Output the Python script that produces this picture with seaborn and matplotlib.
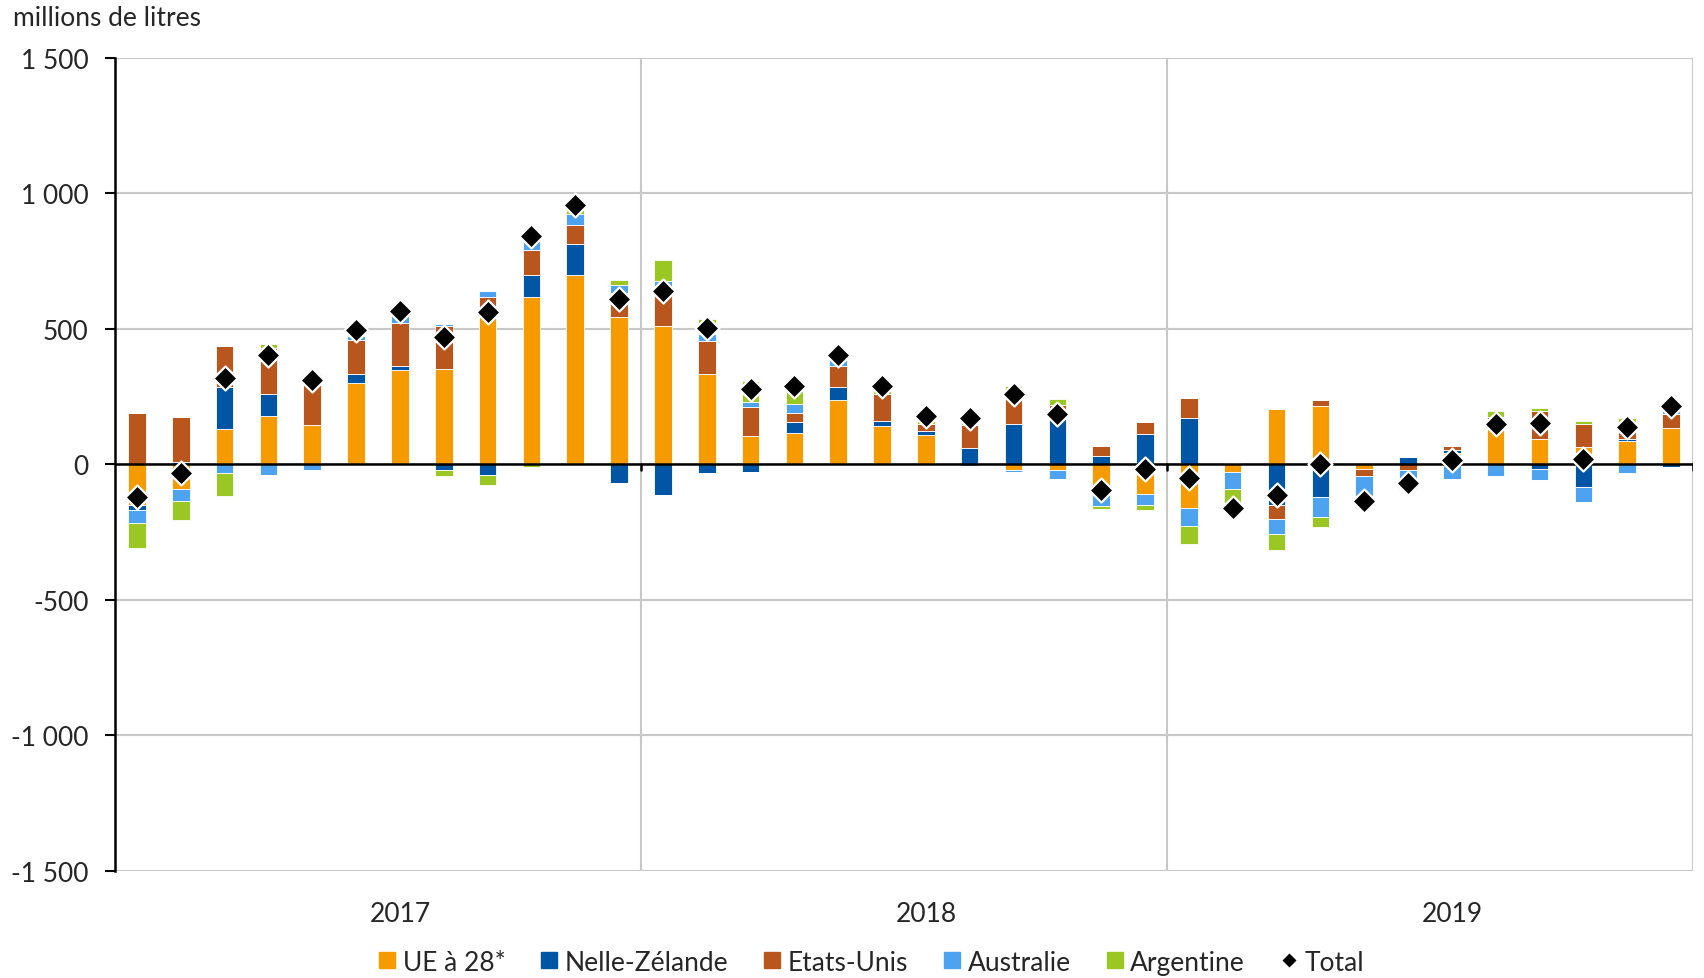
import numpy as np
import pandas as pd
import matplotlib
matplotlib.use("Agg")
import matplotlib.pyplot as plt
from matplotlib.lines import Line2D
import seaborn as sns

# -----------------------------------
# Data (millions de litres), monthly 2017-2019
months = [f"{y}-{m:02d}" for y in (2017, 2018, 2019) for m in range(1, 13)]
years = ["2017", "2018", "2019"]

ue = [-151, -90, 131, 177, 144, 301, 348, 353, 549, 619, 699, 542,
      511, 334, 104, 117, 236, 140, 109, 0, -20, -22, -106, -108,
      -160, -28, 205, 216, -16, 0, 43, 160, 92, 63, 85, 135]
nz = [-16, 10, 155, 82, 0, 31, 15, -20, -38, 80, 115, -68,
      -114, -33, -28, 39, 48, 18, 12, 60, 147, 174, 31, 111,
      171, 0, -149, -120, 0, 27, 11, 0, -16, -84, 8, -11]
us = [190, 165, 150, 171, 147, 125, 158, 156, 70, 90, 70, 91,
      130, 122, 108, 34, 80, 101, 26, 84, 119, 45, 38, 44,
      72, 5, -53, 20, -29, -20, 14, 14, 103, 85, 50, 52]
au = [-48, -47, -34, -38, -22, 16, 27, 7, 20, 68, 41, 27,
      35, 23, 16, 32, 26, 0, 0, -6, -9, -34, -49, -41,
      -68, -64, -54, -74, -87, -45, -53, -44, -41, -55, -31, 8]
ar = [-93, -70, -82, 15, 42, 15, 12, -25, -38, -11, 30, 21,
      76, 58, 79, 63, 10, 32, 28, 30, 22, 22, -9, -21,
      -65, -72, -61, -39, 0, -27, 0, 21, 12, 10, 26, 30]
total = [-120, -31, 319, 404, 311, 494, 564, 469, 561, 844, 957, 611,
         638, 504, 278, 287, 402, 290, 178, 172, 259, 187, -96, -16,
         -49, -160, -114, 2, -135, -68, 15, 150, 152, 18, 138, 214]

series = ["UE à 28*", "Nelle-Zélande", "Etats-Unis", "Australie", "Argentine"]
colors = ["#F59B00", "#0055A4", "#B8561E", "#4DA3F0", "#9BC724"]
values = [ue, nz, us, au, ar]

# -----------------------------------
# Style
sns.set_theme(style="white")
plt.rcParams["font.family"] = ["Lato", "DejaVu Sans"]
fs = 19

fig = plt.figure(figsize=(17.04, 9.79), dpi=100)
ax = fig.add_axes([0.0675, 0.1095, 0.926, 0.8305])

# -----------------------------------
# Stacked bars: positives stack upward, negatives downward
pos_base = np.zeros(len(months))
neg_base = np.zeros(len(months))
for name, col, vals in zip(series, colors, values):
    v = np.array(vals, dtype=float)
    pos = np.where(v > 0, v, 0)
    neg = np.where(v < 0, v, 0)
    sns.barplot(x=months, y=pos, bottom=pos_base, color=col, saturation=1,
                width=0.4, edgecolor="white", linewidth=0.6, ax=ax, zorder=3)
    sns.barplot(x=months, y=neg, bottom=neg_base, color=col, saturation=1,
                width=0.4, edgecolor="white", linewidth=0.6, ax=ax, zorder=3)
    pos_base += pos
    neg_base += neg

# Total diamonds
sns.scatterplot(x=np.arange(len(months)), y=total, marker="D", s=150,
                color="black", edgecolor="white", linewidth=1.6, ax=ax,
                zorder=5, legend=False)

# -----------------------------------
# Axes
ax.set_xlim(-0.5, len(months) - 0.5)
ax.set_ylim(-1500, 1500)
yt = np.arange(-1500, 1501, 500)
ax.set_yticks(yt)
ax.set_yticklabels([f"{t:,}".replace(",", " ") for t in yt], fontsize=fs)
for t in yt:
    ax.axhline(t, color="#C8C8C8", linewidth=1.5, zorder=1)
ax.axhline(0, color="black", linewidth=1.8, zorder=4)
for xb in (11.5, 23.5, 35.5):
    ax.axvline(xb, color="#C8C8C8", linewidth=1.5, zorder=1)
    ax.plot([xb, xb], [0, -22], color="black", linewidth=1.8, zorder=4)

ax.set_xticks([6, 18, 30])
ax.set_xticklabels(years, fontsize=fs)
ax.tick_params(axis="x", length=0, pad=22)
ax.tick_params(axis="y", length=7, width=1.5, color="black", direction="out",
               left=True, pad=12)
ax.set_xlabel("")
ax.set_ylabel("")

for s in ["top", "right", "bottom"]:
    ax.spines[s].set_visible(False)
ax.spines["left"].set_color("black")
ax.spines["left"].set_linewidth(1.8)

fig.text(0.0075, 0.981, "millions de litres", fontsize=fs, va="center", ha="left")

# -----------------------------------
# Legend
handles = [Line2D([0], [0], marker="s", linestyle="none", markersize=11,
                  markerfacecolor=c, markeredgecolor=c) for c in colors]
handles.append(Line2D([0], [0], marker="D", linestyle="none", markersize=8,
                      markerfacecolor="black", markeredgecolor="white"))
fig.legend(handles, series + ["Total"], loc="center", ncol=6,
           bbox_to_anchor=(0.51, 0.0163), frameon=False, fontsize=fs,
           handletextpad=0.1, columnspacing=1.15, handlelength=1.0)

fig.savefig("out.png", dpi=100)
